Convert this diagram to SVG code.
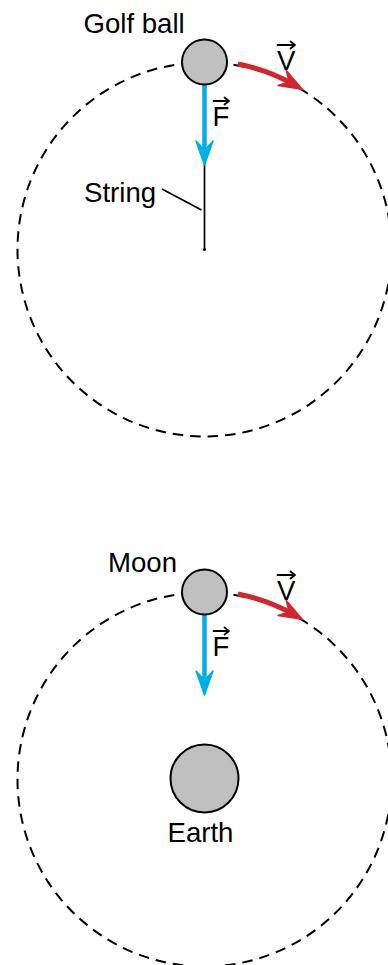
<svg xmlns="http://www.w3.org/2000/svg" width="388" height="965" viewBox="0 0 388 965">
<style>
.orbit{fill:none;stroke:#000;stroke-width:2;stroke-dasharray:10.5 7}
.body{fill:#c0c0c0;stroke:#000;stroke-width:2}
.lbl{font-family:"Liberation Sans",Arial,Helvetica,sans-serif;font-size:27.6px;fill:#000}
.force{fill:none;stroke:#00aee8;stroke-width:4.5}
.vel{fill:none;stroke:#d1262c;stroke-width:5}
.thin{fill:none;stroke:#000;stroke-width:1.7}
.vec{fill:none;stroke:#000;stroke-width:1.8;stroke-linecap:round;stroke-linejoin:round}
</style>
<defs>
<marker id="headBlue" markerUnits="userSpaceOnUse" viewBox="-16 -11 28 22" markerWidth="28" markerHeight="22" refX="0" refY="0" orient="auto">
<path d="M10,0 L-14,-8.5 L-5,0 L-14,8.5 Z" fill="#00aee8" stroke="#00aee8" stroke-width="1.5" stroke-linejoin="round"/>
</marker>
<marker id="headRed" markerUnits="userSpaceOnUse" viewBox="-16 -11 28 22" markerWidth="28" markerHeight="22" refX="0" refY="0" orient="auto">
<path d="M10,0 L-13,-8.5 L-5,0 L-13,8.5 Z" fill="#d1262c" stroke="#d1262c" stroke-width="1.5" stroke-linejoin="round"/>
</marker>
</defs>

<g id="orbit-top"><circle class="orbit" cx="204.5" cy="249.5" r="187"/></g>
<g id="orbit-bottom"><circle class="orbit" cx="204.5" cy="779.5" r="187"/></g>

<g id="connectors">
<line class="thin" x1="204.5" y1="160" x2="204.5" y2="249.5"/>
<circle cx="204.5" cy="249.5" r="1.5" fill="#000"/>
<line class="thin" x1="162" y1="189" x2="201.5" y2="210"/>
<line class="force" x1="204.5" y1="84" x2="204.5" y2="155" marker-end="url(#headBlue)"/>
<path class="vel" d="M238,64 A188,188 0 0 1 293.5,84.3" marker-end="url(#headRed)"/>
<line class="force" x1="204.5" y1="614" x2="204.5" y2="685" marker-end="url(#headBlue)"/>
<path class="vel" d="M238,594 A188,188 0 0 1 293.5,614.3" marker-end="url(#headRed)"/>
</g>

<g id="golf-ball">
<circle class="body" cx="204.5" cy="62" r="22.5"/>
<text class="lbl" x="83.5" y="33">Golf ball</text>
</g>
<g id="string-label">
<text class="lbl" x="84" y="201.5">String</text>
</g>
<g id="label-F-top">
<text class="lbl" x="212.5" y="126">F</text>
<path class="vec" d="M213.5,101 H229 M224.5,97.5 L229,101 L224.5,104.5"/>
</g>
<g id="label-V-top">
<text class="lbl" x="277" y="70">V</text>
<path class="vec" d="M277.5,45 H295 M290.5,41.5 L295,45 L290.5,48.5"/>
</g>

<g id="moon">
<circle class="body" cx="204.5" cy="592" r="22.5"/>
<text class="lbl" x="108" y="572">Moon</text>
</g>
<g id="earth">
<circle class="body" cx="204.5" cy="778.5" r="34"/>
<text class="lbl" x="167.5" y="841.5">Earth</text>
</g>
<g id="label-F-bottom">
<text class="lbl" x="212.5" y="656">F</text>
<path class="vec" d="M213.5,631 H229 M224.5,627.5 L229,631 L224.5,634.5"/>
</g>
<g id="label-V-bottom">
<text class="lbl" x="277" y="600">V</text>
<path class="vec" d="M277.5,575 H295 M290.5,571.5 L295,575 L290.5,578.5"/>
</g>
</svg>
